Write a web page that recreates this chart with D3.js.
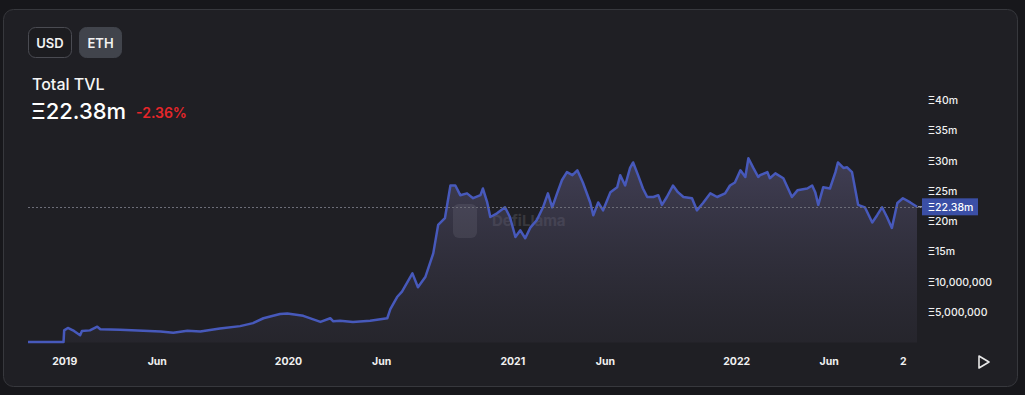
<!DOCTYPE html>
<html>
<head>
<meta charset="utf-8">
<script src="https://cdn.jsdelivr.net/npm/d3@7"></script>
<style>
  html, body { margin: 0; padding: 0; background: #17171b; }
  body { width: 1025px; height: 395px; overflow: hidden; font-family: Inter, "Noto Sans", sans-serif; }
</style>
</head>
<body>
<svg id="chart" width="1025" height="395"></svg>
<script>
// Total TVL in ETH, millions
const dates = [
  '2018-11-03', '2018-12-31', '2019-01-01', '2019-01-07', '2019-01-17', '2019-01-27', '2019-01-30',
  '2019-02-12', '2019-02-24', '2019-03-01', '2019-04-02', '2019-05-10', '2019-06-07', '2019-06-28',
  '2019-07-21', '2019-08-11', '2019-09-12', '2019-10-15', '2019-11-05', '2019-11-22', '2019-12-19',
  '2019-12-31', '2020-01-26', '2020-02-23', '2020-03-10', '2020-03-15', '2020-03-26', '2020-04-16',
  '2020-05-14', '2020-06-11', '2020-06-16', '2020-06-27', '2020-07-05', '2020-07-22', '2020-07-31',
  '2020-08-12', '2020-08-25', '2020-09-02', '2020-09-13', '2020-09-22', '2020-09-30', '2020-10-08',
  '2020-10-19', '2020-10-29', '2020-11-10', '2020-11-14', '2020-11-21', '2020-11-26', '2020-12-07',
  '2020-12-20', '2020-12-28', '2021-01-06', '2021-01-14', '2021-01-22', '2021-01-30', '2021-02-10',
  '2021-02-20', '2021-02-28', '2021-03-07', '2021-03-15', '2021-03-23', '2021-03-31', '2021-04-09',
  '2021-04-17', '2021-04-26', '2021-05-08', '2021-05-13', '2021-05-21', '2021-05-29', '2021-06-10',
  '2021-06-21', '2021-06-26', '2021-07-04', '2021-07-12', '2021-07-17', '2021-07-25', '2021-08-02',
  '2021-08-09', '2021-08-19', '2021-08-27', '2021-09-02', '2021-09-10', '2021-09-20', '2021-09-28',
  '2021-10-07', '2021-10-21', '2021-10-29', '2021-11-08', '2021-11-20', '2021-12-01', '2021-12-14',
  '2021-12-22', '2021-12-30', '2022-01-08', '2022-01-16', '2022-01-21', '2022-01-29', '2022-02-06',
  '2022-02-09', '2022-02-21', '2022-02-25', '2022-03-06', '2022-03-19', '2022-04-02', '2022-04-11',
  '2022-04-27', '2022-05-05', '2022-05-10', '2022-05-15', '2022-05-23', '2022-06-03', '2022-06-12',
  '2022-06-16', '2022-06-25', '2022-07-01', '2022-07-09', '2022-07-14', '2022-07-19', '2022-07-30',
  '2022-08-11', '2022-08-19', '2022-08-27', '2022-09-04', '2022-09-12', '2022-09-21', '2022-09-30',
  '2022-10-12', '2022-10-23'
];
const tvl = [
  0.1, 0.1, 2.0, 2.4, 1.9, 1.2, 1.9,
  2.0, 2.6, 2.2, 2.1, 1.95, 1.8, 1.6,
  1.95, 1.8, 2.3, 2.7, 3.2, 4.0, 4.7,
  4.8, 4.4, 3.4, 4.0, 3.5, 3.6, 3.4,
  3.6, 4.0, 5.5, 7.5, 8.4, 11.4, 9.1,
  10.8, 14.7, 19.4, 20.5, 25.9, 25.9, 24.3,
  24.6, 23.8, 24.3, 25.4, 23.1, 20.7, 21.3,
  22.3, 20.7, 17.4, 18.5, 17.2, 18.9, 20.2,
  22.3, 24.6, 22.3, 24.6, 26.8, 28.1, 27.6,
  28.4, 26.4, 23.1, 21.0, 23.1, 21.8, 24.8,
  25.6, 27.6, 25.9, 28.8, 29.7, 27.6, 25.4,
  24.0, 24.0, 24.3, 22.7, 24.0, 25.9, 24.8,
  24.0, 23.8, 21.8, 23.0, 24.6, 24.0, 24.6,
  25.9, 26.4, 28.4, 27.3, 30.4, 28.8, 27.3,
  27.6, 28.1, 27.1, 27.9, 27.1, 24.0, 25.1,
  25.4, 25.9, 24.8, 22.7, 25.6, 25.4, 28.1,
  29.7, 28.8, 28.9, 28.1, 25.4, 22.7, 22.3,
  19.8, 21.0, 22.3, 20.7, 18.9, 23.0, 23.8,
  23.1, 22.38
];
const yTicks = [5, 10, 15, 20, 25, 30, 35, 40];
const xTickDates = ['2019-01-01', '2019-06-01', '2020-01-01', '2020-06-01', '2021-01-01', '2021-06-01', '2022-01-01', '2022-06-01', '2022-09-30'];
const xTickLabels = ['2019', 'Jun', '2020', 'Jun', '2021', 'Jun', '2022', 'Jun', '2'];
const currentValue = 22.38;
const change = '-2.36%';

const parse = d3.timeParse('%Y-%m-%d');
const data = dates.map((d, i) => ({ date: parse(d), value: tvl[i] }));

const svg = d3.select('#chart');

// Card
svg.append('rect')
  .attr('x', 3.5).attr('y', 9.5)
  .attr('width', 1014).attr('height', 377)
  .attr('rx', 10)
  .attr('fill', '#1f1f24')
  .attr('stroke', '#37383d');

// Currency toggle
const buttons = [
  { label: 'USD', x: 28, w: 43, fill: '#1c1c20', stroke: '#4a4b52' },
  { label: 'ETH', x: 79, w: 42, fill: '#41444c', stroke: '#41444c' }
];
buttons.forEach((b) => {
  svg.append('rect')
    .attr('x', b.x + 0.5).attr('y', 27.5)
    .attr('width', b.w).attr('height', 30)
    .attr('rx', 7)
    .attr('fill', b.fill)
    .attr('stroke', b.stroke);
  svg.append('text')
    .attr('x', b.x + b.w / 2 + 0.5).attr('y', 47.5)
    .attr('text-anchor', 'middle')
    .attr('fill', '#f2f2f2')
    .attr('font-size', 13).attr('font-weight', 600)
    .text(b.label);
});

// Header
svg.append('text').attr('x', 32).attr('y', 90)
  .attr('fill', '#f5f5f5').attr('font-size', 16).attr('font-weight', 500)
  .text('Total TVL');
svg.append('text').attr('x', 31).attr('y', 119)
  .attr('fill', '#ffffff').attr('font-size', 22).attr('font-weight', 500)
  .text(`Ξ${currentValue}m`);
svg.append('text').attr('x', 136).attr('y', 118)
  .attr('fill', '#e5262a').attr('font-size', 14).attr('font-weight', 600)
  .text(change);

// Scales
const x = d3.scaleTime()
  .domain(d3.extent(data, (d) => d.date))
  .range([28, 917]);
const y = d3.scaleLinear()
  .domain([0, 40])
  .range([342.5, 100]);

// Watermark
const wm = svg.append('g').attr('opacity', 0.13);
wm.append('rect').attr('x', 453).attr('y', 204).attr('width', 24).attr('height', 34).attr('rx', 6).attr('fill', '#d0d0d8');
wm.append('text').attr('x', 492).attr('y', 226)
  .attr('fill', '#e0e0e8').attr('font-size', 15).attr('font-weight', 700)
  .text('DefiLlama');

// Area gradient
const defs = svg.append('defs');
const grad = defs.append('linearGradient').attr('id', 'areaGrad')
  .attr('x1', 0).attr('y1', 0).attr('x2', 0).attr('y2', 1);
grad.append('stop').attr('offset', '0%').attr('stop-color', '#6a6590').attr('stop-opacity', 0.45);
grad.append('stop').attr('offset', '100%').attr('stop-color', '#3a3845').attr('stop-opacity', 0.25);

svg.append('path')
  .datum(data)
  .attr('fill', 'url(#areaGrad)')
  .attr('d', d3.area().x((d) => x(d.date)).y0(y(0)).y1((d) => y(d.value)));

svg.append('path')
  .datum(data)
  .attr('fill', 'none')
  .attr('stroke', '#4759bb')
  .attr('stroke-width', 2.5)
  .attr('stroke-linejoin', 'round')
  .attr('d', d3.line().x((d) => x(d.date)).y((d) => y(d.value)));

// Current value marker line
svg.append('line')
  .attr('x1', 28).attr('x2', 921)
  .attr('y1', Math.round(y(currentValue)) + 0.5).attr('y2', Math.round(y(currentValue)) + 0.5)
  .attr('stroke', '#6c6d78')
  .attr('stroke-dasharray', '2,2');

// Y axis
const fmtY = (v) => (v >= 15 ? `Ξ${v}m` : `Ξ${d3.format(',')(v * 1e6)}`);
const yAxis = svg.append('g')
  .attr('transform', 'translate(922,0)')
  .call(d3.axisRight(y).tickValues(yTicks).tickSize(0).tickPadding(6).tickFormat(fmtY));
yAxis.select('.domain').remove();
yAxis.selectAll('text')
  .attr('fill', '#f0f0f0')
  .attr('font-size', 10.5)
  .attr('font-family', 'Inter, "Noto Sans", sans-serif')
  .attr('font-weight', 500);

// Current value badge
const badgeY = y(currentValue);
svg.append('rect')
  .attr('x', 922).attr('y', badgeY - 8.5)
  .attr('width', 56).attr('height', 17)
  .attr('fill', '#3b4fa6');
svg.append('line')
  .attr('x1', 918).attr('x2', 922)
  .attr('y1', badgeY).attr('y2', badgeY)
  .attr('stroke', '#c8cbe0');
svg.append('text')
  .attr('x', 928).attr('y', badgeY + 4)
  .attr('fill', '#ffffff')
  .attr('font-size', 10.5).attr('font-weight', 500)
  .text(`Ξ${currentValue}m`);

// X axis
const xAxis = svg.append('g')
  .attr('transform', 'translate(0,350)')
  .call(d3.axisBottom(x)
    .tickValues(xTickDates.map(parse))
    .tickSize(0).tickPadding(8)
    .tickFormat((d, i) => xTickLabels[i]));
xAxis.select('.domain').remove();
xAxis.selectAll('text')
  .attr('fill', '#f0f0f0')
  .attr('font-size', 10.5)
  .attr('font-family', 'Inter, "Noto Sans", sans-serif')
  .attr('font-weight', 700);

// Play button
svg.append('path')
  .attr('d', 'M979,356 L989,362 L979,368 Z')
  .attr('fill', 'none')
  .attr('stroke', '#e8e8e8')
  .attr('stroke-width', 1.6)
  .attr('stroke-linejoin', 'round');
</script>
</body>
</html>
